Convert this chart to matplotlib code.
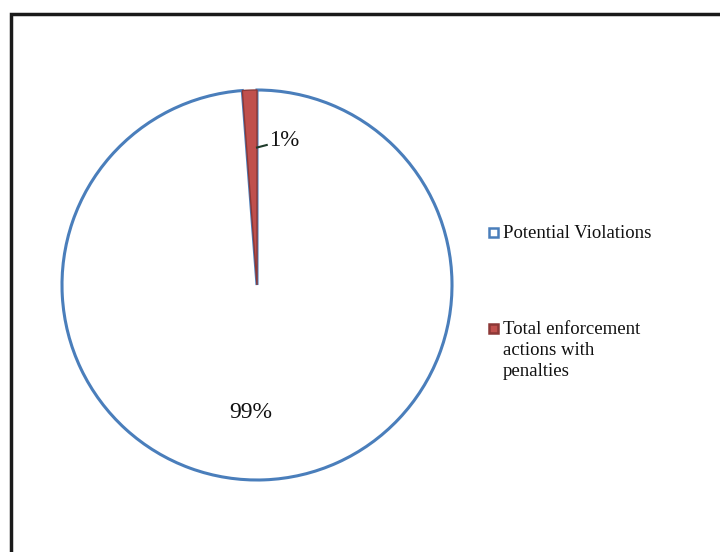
import matplotlib
matplotlib.use("Agg")
import matplotlib.pyplot as plt
from matplotlib.patches import Rectangle

# --- data ---
labels = ["Potential Violations", "Total enforcement\nactions with\npenalties"]
shares = [98.8, 1.2]
pct_text = ["99%", "1%"]
fills = ["white", "#c0504d"]
edges = ["#4a7ebb", "#8c3836"]

W, H = 720, 552
fig = plt.figure(figsize=(W / 100, H / 100), dpi=100)
fig.patch.set_facecolor("white")
plt.rcParams["font.family"] = ["Liberation Serif", "DejaVu Serif"]

def px(x, y):
    # pixel coords (from top-left) -> figure fraction
    return x / W, 1 - y / H

# pie axes: centre (257, 285), radius 195 px
cx, cy, r = 257, 285, 195
lim = 1.25
side = 2 * lim * r
ax = fig.add_axes([(cx - side / 2) / W, (H - cy - side / 2) / H, side / W, side / H])
ax.set_xlim(-lim, lim); ax.set_ylim(-lim, lim)
ax.set_aspect("equal"); ax.axis("off")

wedges, _ = ax.pie(shares, colors=fills, startangle=90, counterclock=False, radius=1,
                   wedgeprops=dict(linewidth=2.2))
for w, ec in zip(wedges, edges):
    w.set_edgecolor(ec)
wedges[1].set_linewidth(1.0)

# data labels
ax.text(-0.03, -0.655, pct_text[0], ha="center", va="center", fontsize=17, color="#111111")
ax.plot([0.0, 0.05], [0.705, 0.718], color="#1f3b2a", linewidth=1.5)
ax.text(0.06, 0.74, pct_text[1], ha="left", va="center", fontsize=16.5, color="#111111")

# legend drawn by hand
leg_y = [232, 328]
for lab, fc, ec, y in zip(labels, fills, edges, leg_y):
    x0, y0 = px(489, y + 5)
    fig.add_artist(Rectangle((x0, y0), 9 / W, 9 / H, transform=fig.transFigure,
                             facecolor=fc, edgecolor=ec, linewidth=1.8))
    tx, ty = px(503, y - 7)
    fig.text(tx, ty, lab, ha="left", va="top", fontsize=13.5, color="#111111",
             linespacing=1.3)

# chart-area frame (right and bottom edges fall outside the scan)
fx, fy = px(11, 14)
fig.add_artist(Rectangle((fx, -0.05), 1.1, fy + 0.05, transform=fig.transFigure,
                         facecolor="none", edgecolor="#1a1a1a", linewidth=2.5))

fig.savefig("out.png", dpi=100)
